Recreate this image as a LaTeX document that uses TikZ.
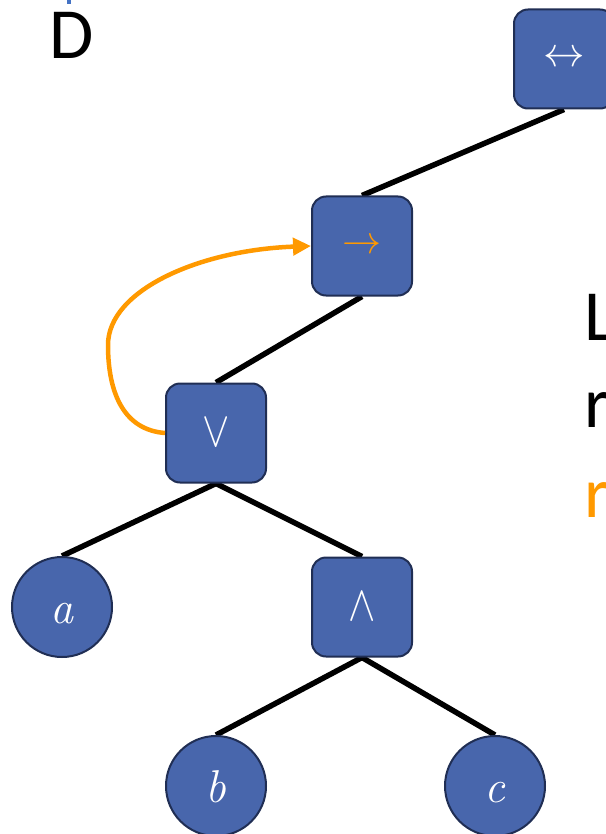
\documentclass[tikz,border=0pt]{standalone}
\usepackage{graphicx}
\usepackage{fontspec}
\newfontfamily\slidefont{Carlito}
\usetikzlibrary{arrows.meta,backgrounds}

\definecolor{nodeblue}{RGB}{72,102,172}
\definecolor{nodeedge}{RGB}{32,46,84}
\definecolor{accent}{RGB}{255,153,0}
\definecolor{titleblue}{RGB}{68,114,196}

% operator glyphs, scaled up from 10pt math
\newcommand{\opiff}{\scalebox{4.15}{$\leftrightarrow$}}
\newcommand{\opimp}{\scalebox{3.9}{$\rightarrow$}}
\newcommand{\opor}{\scalebox{4.1}[5]{$\vee$}}
\newcommand{\opand}{\scalebox{4.1}[5]{$\wedge$}}

\tikzset{
  opbox/.style={draw=nodeedge, fill=nodeblue, line width=2pt, rounded corners=14pt,
    minimum width=100pt, minimum height=99pt, inner sep=0pt, text=white},
  leaf/.style={circle, draw=nodeedge, fill=nodeblue, line width=2pt,
    minimum size=100pt, inner sep=0pt, text=white,
    text height=33pt, text depth=0pt,
    font=\fontsize{46}{46}\selectfont\itshape},
  treeedge/.style={line width=5.5pt, black},
  backlink/.style={accent, line width=4.5pt, -{Triangle[length=18pt,width=17pt]}},
  slidetext/.style={font=\slidefont\fontsize{72}{86}\selectfont, inner sep=0pt, anchor=base west}
}

\begin{document}
\begin{tikzpicture}[x=1pt, y=-1pt]
  \useasboundingbox (0,0) rectangle (605,834);

  % slide text
  \fill[titleblue] (67,0) rectangle (71,4);
  \node[slidetext] (dlabel) at (49,59) {D};
  \node[slidetext] (line1) at (584,340) {L};
  \node[slidetext] (line2) at (584,427) {r};
  \node[slidetext, text=accent] (line3) at (584,517) {r};

  % syntax tree
  \node[opbox] (iff) at (564,59) {\opiff};
  \node[opbox, text=accent] (imp) at (362,246) {\opimp};
  \node[opbox] (or) at (216,433) {\opor};
  \node[leaf] (a) at (62,607) {a};
  \node[opbox] (and) at (362,607) {\opand};
  \node[leaf] (b) at (216,786) {b};
  \node[leaf] (c) at (495,786) {c};

  \begin{scope}[on background layer]
    \draw[treeedge] (iff.south) -- (imp.north);
    \draw[treeedge] (imp.south) -- (or.north);
    \draw[treeedge] (or.south) -- (a.north);
    \draw[treeedge] (or.south) -- (and.north);
    \draw[treeedge] (and.south) -- (b.north);
    \draw[treeedge] (and.south) -- (c.north);
  \end{scope}

  % link back up to the implication
  \coordinate (bend) at (108,345);
  \draw[backlink] (or.west) .. controls (125,430) and (108,395) .. (bend)
                            .. controls (108,290) and (200,250) .. (imp.west);
\end{tikzpicture}
\end{document}
